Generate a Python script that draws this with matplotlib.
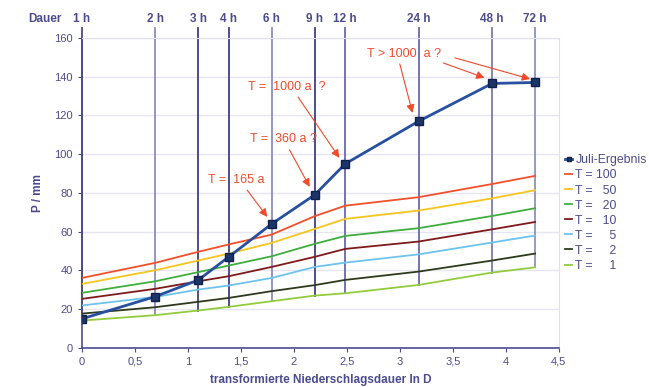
import numpy as np
import matplotlib
matplotlib.use("Agg")
import matplotlib.pyplot as plt

plt.rcParams['font.family'] = ['Liberation Sans', 'DejaVu Sans']

# Dauer in Stunden, x = ln D
hours = [1, 2, 3, 4, 6, 9, 12, 24, 48, 72]
hour_labels = ["1 h", "2 h", "3 h", "4 h", "6 h", "9 h", "12 h", "24 h", "48 h", "72 h"]
x = np.log(hours)

juli = [15, 26.5, 35, 47, 64, 79, 95, 117, 136.5, 137]

T100 = [36.1, 43.9, 49.6, 53.4, 58.5, 68.0, 73.4, 77.8, 84.6, 88.8]
T50 = [33.0, 40.1, 45.1, 48.7, 54.2, 61.4, 66.6, 70.9, 77.2, 81.4]
T20 = [28.4, 34.4, 39.1, 42.5, 47.3, 53.7, 57.8, 61.8, 68.1, 72.1]
T10 = [25.3, 30.5, 34.4, 37.0, 41.8, 47.0, 51.1, 54.9, 61.2, 65.0]
T5 = [21.9, 26.3, 30.1, 32.2, 36.1, 41.8, 44.0, 48.3, 54.4, 58.0]
T2 = [17.7, 21.0, 23.8, 25.8, 29.3, 32.4, 35.1, 39.4, 45.1, 48.7]
T1 = [14.1, 16.9, 19.3, 21.2, 24.1, 27.0, 28.2, 32.5, 38.9, 41.6]

series = [T100, T50, T20, T10, T5, T2, T1]
series_labels = ["T = 100", "T =   50", "T =   20", "T =   10", "T =     5", "T =     2", "T =     1"]
colors = ["#f2502a", "#f7c51e", "#3fae3f", "#7e1a1a", "#6ec3ee", "#2e3a1c", "#92cc3c"]

vline_colors = ["#4a4a8e", "#8c8cbc", "#3e3e88", "#3e3e88", "#8c8cbc",
                "#3e3e88", "#6a6aa8", "#6a6aa8", "#7a7ab0", "#9090c0"]

navy = "#4b4b8f"
red = "#f04a2a"

fig = plt.figure(figsize=(6.49, 3.87), dpi=100)
ax = fig.add_axes([0.126, 0.101, 0.735, 0.801])

ax.set_xlim(0, 4.5)
ax.set_ylim(0, 160)
ax.set_yticks(np.arange(0, 161, 20))
ax.set_xticks(np.arange(0, 4.51, 0.5))
ax.set_xticklabels(["0", "0,5", "1", "1,5", "2", "2,5", "3", "3,5", "4", "4,5"])
ax.grid(axis='y', color="#e6e6f0", lw=1)
ax.set_axisbelow(True)
for s in ["top", "right"]:
    ax.spines[s].set_color("#e0e0e8")
for s in ["left", "bottom"]:
    ax.spines[s].set_color(navy)
    ax.spines[s].set_linewidth(1.2)
ax.tick_params(colors=navy, labelsize=8, length=3, labelcolor=navy)

# senkrechte Linien der Dauerstufen
for xi, lo, c in zip(x, T1, vline_colors):
    ax.plot([xi, xi], [lo, 165], color=c, lw=1.3, clip_on=False, zorder=2)

for ys, lab, c in zip(series, series_labels, colors):
    ax.plot(x, ys, color=c, lw=1.3, label=lab, zorder=3)

ax.plot(x, juli, color="#2850a0", lw=2, marker="s", ms=6, mfc="#1c3468",
        mec="#10204a", label="Juli-Ergebnis", zorder=5)

# Beschriftung oben
ax.text(-0.35, 170, "Dauer", ha="center", va="center", color=navy,
        fontsize=8.5, fontweight="bold", clip_on=False)
for xi, lab in zip(x, hour_labels):
    ax.text(xi, 170, lab, ha="center", va="center", color=navy,
            fontsize=8.5, fontweight="bold", clip_on=False)

# Annotationen
notes = [
    ("T =  1000 a  ?", (1.93, 134.7), [((2.04, 129.5), (2.43, 98.1))]),
    ("T =  360 a ?", (1.90, 107.9), [((1.96, 102.2), (2.15, 83.1))]),
    ("T =  165 a", (1.46, 86.7), [((1.56, 81.5), (1.75, 67.6))]),
    ("T > 1000  a ?", (3.04, 151.7), [((3.00, 146.6), (3.12, 121.3)),
                                     ((3.41, 147.1), (3.80, 139.4)),
                                     ((3.52, 149.7), (4.23, 138.8))]),
]
for txt, pos, arrows in notes:
    ax.text(pos[0], pos[1], txt, ha="center", va="center", color=red, fontsize=9)
    for start, end in arrows:
        ax.annotate("", xy=end, xytext=start,
                    arrowprops=dict(arrowstyle="-|>", color=red, lw=0.8,
                                    mutation_scale=12, shrinkA=0, shrinkB=0))

handles, labels = ax.get_legend_handles_labels()
order = [len(handles) - 1] + list(range(len(handles) - 1))
leg = ax.legend([handles[i] for i in order], [labels[i] for i in order],
                loc="upper left", bbox_to_anchor=(1.003, 0.64), frameon=False,
                fontsize=8.8, handlelength=0.6, handletextpad=0.25,
                labelspacing=0.25, borderaxespad=0, markerscale=0.6)
for t in leg.get_texts():
    t.set_color(navy)

ax.set_ylabel("P / mm", color=navy, fontsize=8.5, fontweight="bold", labelpad=7)
ax.set_xlabel("transformierte Niederschlagsdauer ln D", color=navy, fontsize=8.5,
              fontweight="bold", labelpad=5)

fig.savefig("out.png", dpi=100)
